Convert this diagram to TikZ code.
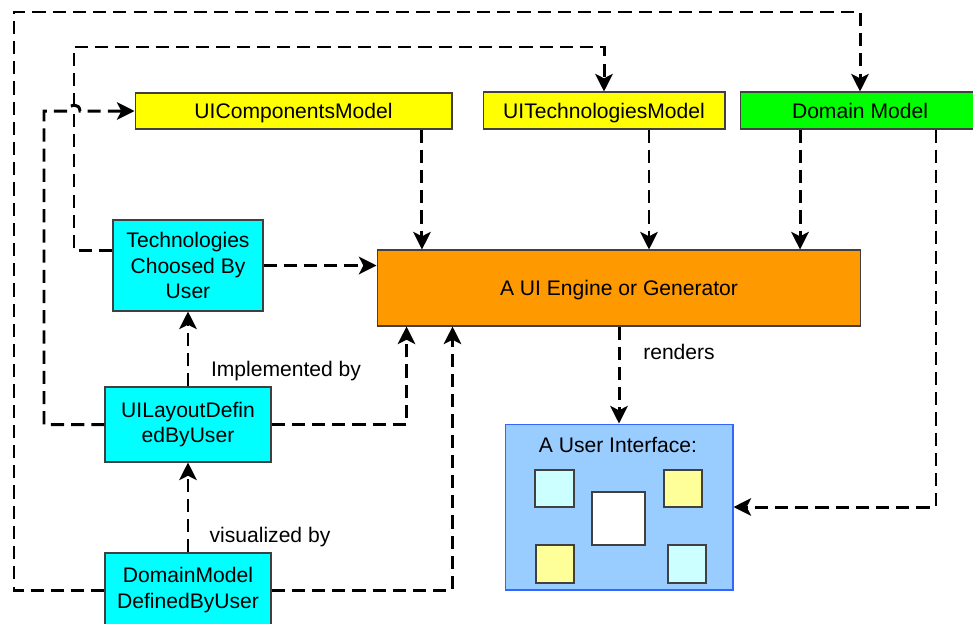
\documentclass[tikz,border=0pt]{standalone}
\usepackage{fontspec}
\setmainfont{Liberation Sans}
\usetikzlibrary{arrows.meta}

\definecolor{modelyellow}{HTML}{FFFF00}
\definecolor{modelgreen}{HTML}{00FF00}
\definecolor{engineorange}{HTML}{FF9900}
\definecolor{usercyan}{HTML}{00FFFF}
\definecolor{uiblue}{HTML}{99CCFF}
\definecolor{uiedge}{HTML}{3366FF}
\definecolor{tilecyan}{HTML}{CCFFFF}
\definecolor{tileyellow}{HTML}{FFFF99}

\begin{document}
\begin{tikzpicture}[x=0.02cm, y=-0.02cm,
	box/.style = {draw=black!75, line width=0.6pt, align=center, inner sep=0pt, font=\fontsize{12}{14.5}\selectfont},
	oneline/.style = {box, text height=8.6pt, text depth=0pt},
	lbl/.style = {font=\fontsize{12}{14.5}\selectfont},
	tile/.style = {draw=black!75, line width=0.6pt, inner sep=0pt},
	conn/.style = {line width=1.7pt, dash pattern=on 7.5pt off 4pt, -{Stealth[length=10pt, width=10pt, inset=2.5pt]}}]
	\useasboundingbox (0,0) rectangle (973,623);
	% models
	\node [oneline, fill=modelyellow, minimum width=6.34cm, minimum height=0.72cm] (comp) at (293.5,111) {UIComponentsModel};
	\node [oneline, fill=modelyellow, minimum width=4.84cm, minimum height=0.74cm] (tech) at (604,110.5) {UITechnologiesModel};
	\node [oneline, fill=modelgreen, minimum width=4.8cm, minimum height=0.74cm] (dom) at (860,110.5) {Domain Model};
	\node [oneline, fill=engineorange, minimum width=9.68cm, minimum height=1.52cm] (engine) at (619,288) {A UI Engine or Generator};
	% user side
	\node [box, fill=usercyan, minimum width=3cm, minimum height=1.82cm] (techuser) at (188,265.5) {Technologies\\Choosed By\\User};
	\node [box, fill=usercyan, minimum width=3.32cm, minimum height=1.5cm] (layout) at (188,424.5) {UILayoutDefin\\edByUser};
	\node [box, fill=usercyan, minimum width=3.32cm, minimum height=1.48cm] (dmuser) at (188,590) {DomainModel\\DefinedByUser};
	% the interface
	\node [draw=uiedge, line width=0.6pt, fill=uiblue, minimum width=4.56cm, minimum height=3.32cm] (ui) at (619,507) {};
	\node [lbl] (uititle) at (618,445) {A User Interface:};
	\node [tile, fill=tilecyan, minimum width=0.78cm, minimum height=0.74cm] (tileA) at (554.5,488.5) {};
	\node [tile, fill=white, minimum width=1.06cm, minimum height=1.06cm] (tileB) at (618.5,518.5) {};
	\node [tile, fill=tileyellow, minimum width=0.76cm, minimum height=0.74cm] (tileC) at (683,488.5) {};
	\node [tile, fill=tileyellow, minimum width=0.76cm, minimum height=0.76cm] (tileD) at (555,564) {};
	\node [tile, fill=tilecyan, minimum width=0.76cm, minimum height=0.76cm] (tileE) at (687,564) {};
	% labels
	\node [lbl] (impl) at (286,371) {Implemented by};
	\node [lbl] (visual) at (270,537) {visualized by};
	\node [lbl] (renders) at (679,352) {renders};
	% lanes round the left and top
	\draw [conn] (dmuser.west) -| (14,12) -| (dom.north);
	\draw [conn] ([yshift=0.31cm]techuser.west) -| (74,47) -| (tech.north);
	\draw [conn] (layout.west) -| (44,111) -- (68,111) .. controls (68,103) and (80,103) .. (80,111) -- (comp.west);
	% into the engine
	\draw [conn] (techuser.east) -- (techuser.east -| engine.west);
	\draw [conn] ([xshift=2.57cm]comp.south) -- ([xshift=2.57cm]comp.south |- engine.north);
	\draw [conn] ([xshift=0.9cm]tech.south) -- ([xshift=0.9cm]tech.south |- engine.north);
	\draw [conn] ([xshift=-1.2cm]dom.south) -- ([xshift=-1.2cm]dom.south |- engine.north);
	\draw [conn] (layout.east) -| ([xshift=0.6cm]engine.south west);
	\draw [conn] (dmuser.east) -| ([xshift=1.52cm]engine.south west);
	% out of the engine
	\draw [conn] (engine.south) -- (ui.north);
	\draw [conn] ([xshift=1.52cm]dom.south) |- (ui.east);
	% between the user models
	\draw [conn] (layout.north) -- (techuser.south);
	\draw [conn] (dmuser.north) -- (layout.south);
\end{tikzpicture}
\end{document}
